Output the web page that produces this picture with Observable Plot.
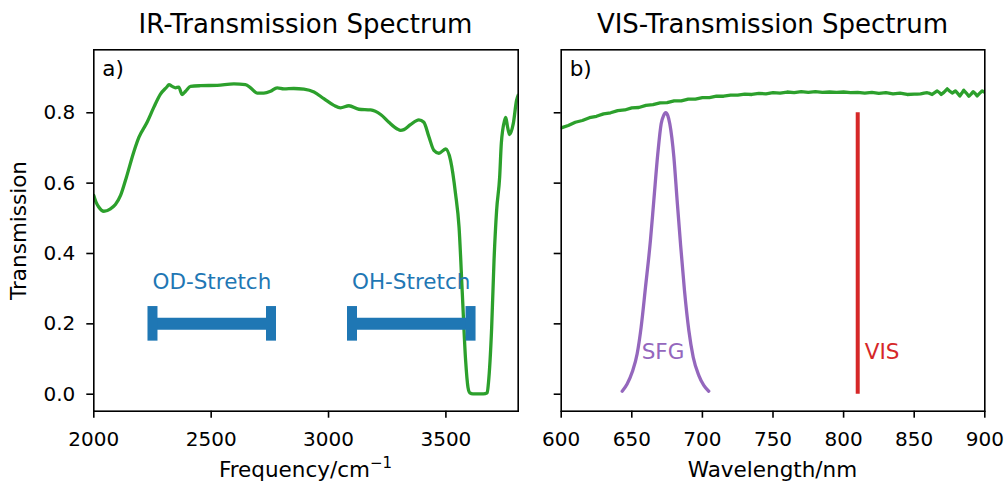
<!DOCTYPE html>
<html><head><meta charset="utf-8">
<script src="https://cdn.jsdelivr.net/npm/d3@7"></script>
<script src="https://cdn.jsdelivr.net/npm/@observablehq/plot@0.6"></script>
<style>
body{margin:0;background:#fff;font-family:"DejaVu Sans",sans-serif;}
#wrap{position:relative;width:1006px;height:483px;overflow:hidden;background:#fff;}
.abs{position:absolute;}
.title{font-size:26px;line-height:1;text-align:center;white-space:nowrap;color:#000;}
.xlabel{font-size:21.5px;line-height:1;text-align:center;white-space:nowrap;color:#000;}
.xlabel sup{font-size:15px;vertical-align:0;position:relative;top:-9px;}
</style></head><body><div id="wrap"></div>
<script>
// ---------- data ----------
const irFreq  = [2000,2010,2021,2043,2071,2092,2114,2139,2170,2192,2227,2256,2284,2312,2320,2334,2348,2362,2376,2391,2412,2455,2526,2597,2646,2668,2696,2724,2753,2781,2810,2852,2895,2938,2980,3023,3051,3087,3129,3179,3222,3257,3293,3307,3321,3349,3385,3406,3428,3449,3470,3499,3520,3541,3556,3570,3584,3594,3602,3615,3660,3676,3681,3695,3705,3716,3729,3736,3750,3755,3762,3771,3787,3801,3808];
const irTrans = [0.565,0.545,0.532,0.520,0.527,0.539,0.565,0.617,0.688,0.730,0.773,0.816,0.853,0.874,0.880,0.875,0.871,0.873,0.852,0.861,0.875,0.877,0.878,0.882,0.880,0.871,0.856,0.856,0.861,0.871,0.868,0.869,0.867,0.859,0.840,0.821,0.814,0.820,0.810,0.808,0.795,0.773,0.754,0.750,0.752,0.766,0.780,0.773,0.731,0.693,0.685,0.697,0.664,0.570,0.475,0.285,0.096,0.020,0.004,0.001,0.001,0.004,0.030,0.190,0.380,0.522,0.617,0.712,0.778,0.787,0.762,0.738,0.769,0.835,0.850];

const visWavelength = [600,605,610,615,620,625,630,635,640,645,650,655,660,665,670,675,680,685,690,695,700,705,710,715,720,725,730,735,740,745,750,755,760,765,770,775,780,785,790,795,800,805,810,815,820,825,830,835,840,845,850,852,854.5,857,859.2,861,862.7,864.5,866.3,868,869.1,871,873.4,875,876.9,878,879.2,880.8,882.3,883.8,885.1,886.9,888.7,890.3,891.8,893.2,894.6,896.3,898.1,900];
const visTrans = [0.757,0.764,0.773,0.778,0.786,0.790,0.797,0.800,0.806,0.808,0.814,0.815,0.821,0.823,0.828,0.829,0.834,0.834,0.839,0.839,0.843,0.843,0.847,0.847,0.850,0.850,0.853,0.852,0.855,0.854,0.857,0.856,0.859,0.857,0.860,0.858,0.860,0.858,0.859,0.858,0.859,0.857,0.858,0.856,0.858,0.855,0.857,0.854,0.856,0.852,0.853,0.853,0.854,0.856,0.857,0.855,0.852,0.857,0.862,0.857,0.852,0.858,0.868,0.862,0.856,0.859,0.862,0.855,0.848,0.856,0.864,0.856,0.847,0.853,0.860,0.855,0.848,0.855,0.862,0.858];

const sfgWavelength = [643.2,646.7,650.3,653.8,656.6,659.7,663.2,665.6,668.4,670.8,672.5,674,675.5,676.9,679.8,682.1,684.5,687.3,690.4,693.5,697.5,701,704.5];
const sfgIntensity  = [0.0085,0.029,0.063,0.115,0.190,0.304,0.437,0.551,0.683,0.769,0.792,0.800,0.792,0.769,0.674,0.551,0.427,0.295,0.181,0.105,0.053,0.025,0.0085];

const visLaser = [810];
const visLaserLow = 0, visLaserHigh = 0.8;

const stretchNames = ["OD-Stretch","OH-Stretch"];
const stretchStart = [2250,3100];
const stretchEnd   = [2755,3605];
const stretchLevel = 0.2;
const stretchLabelLevel = 0.3;

const peakLabels = ["SFG","VIS"];
const peakLabelX = [657,815];
const peakLabelY = 0.1;

const yTicks = [0,0.2,0.4,0.6,0.8];
const irTicks = [2000,2500,3000,3500];
const visTicks = [600,650,700,750,800,850,900];
const yDomain = [-0.0483,0.979];

// ---------- tables ----------
const ir = irFreq.map((f,i)=>({x:f,y:irTrans[i]}));
const vis = visWavelength.map((w,i)=>({x:w,y:visTrans[i]}));
const sfg = sfgWavelength.map((w,i)=>({x:w,y:sfgIntensity[i]}));
const stretches = stretchNames.map((n,i)=>({name:n,x1:stretchStart[i],x2:stretchEnd[i],y:stretchLevel,ly:stretchLabelLevel}));
const caps = stretches.flatMap(s=>[{x:s.x1,y:s.y},{x:s.x2,y:s.y}]);
const vlaser = visLaser.map(w=>({x:w,y1:visLaserLow,y2:visLaserHigh}));
const peaks = peakLabels.map((t,i)=>({t,x:peakLabelX[i],y:peakLabelY}));

const GREEN="#2ca02c", BLUE="#1f77b4", PURPLE="#9467bd", RED="#d62728";
const FONT='"DejaVu Sans", sans-serif';
const TICKFS=20, LABFS=21.5;

const wrap = document.getElementById("wrap");

const common = {
  height: 483,
  marginTop: 49.3, marginBottom: 72.3,
  style: {fontFamily: FONT, fontSize: TICKFS+"px", color:"#000", background:"transparent", overflow:"visible"},
  y: {domain: yDomain}
};

const left = Plot.plot({
  ...common,
  width: 520, marginLeft: 93.3, marginRight: 2.3,
  x: {domain: [2000,3808]},
  marks: [
    Plot.line(ir, {x:"x", y:"y", stroke:GREEN, strokeWidth:3.3, curve:"monotone-x", clip:true}),
    Plot.ruleY(stretches, {x1:"x1", x2:"x2", y:"y", stroke:BLUE, strokeWidth:12}),
    Plot.ruleX(caps, {x:"x", y1:"y", y2:"y", insetTop:-17.3, insetBottom:-17.3, stroke:BLUE, strokeWidth:10}),
    Plot.text(stretches, {x:"x1", y:"ly", text:"name", textAnchor:"start", lineAnchor:"bottom", fill:BLUE, fontSize:LABFS}),
    Plot.text(["a)"], {text:d=>d, frameAnchor:"top-left", dx:8.5, dy:25.7, textAnchor:"start", lineAnchor:"bottom", fontSize:LABFS, fill:"#000"}),
    Plot.text(["Transmission"], {text:d=>d, frameAnchor:"left", dx:-68.3, rotate:-90, textAnchor:"middle", lineAnchor:"bottom", fontSize:LABFS, fill:"#000"}),
    Plot.frame({stroke:"#000", strokeWidth:1.6}),
    Plot.axisX({ticks:irTicks, tickFormat:d=>String(d), tickSize:7, tickPadding:14, strokeWidth:1.6, fontSize:TICKFS, label:null}),
    Plot.axisY({ticks:yTicks, tickFormat:d=>d.toFixed(1), tickSize:7, tickPadding:11.5, strokeWidth:1.6, fontSize:TICKFS, label:null})
  ]
});

const right = Plot.plot({
  ...common,
  width: 486, marginLeft: 40.7, marginRight: 21.7,
  x: {domain: [600,900]},
  marks: [
    Plot.line(vis, {x:"x", y:"y", stroke:GREEN, strokeWidth:3.3, clip:true}),
    Plot.line(sfg, {x:"x", y:"y", stroke:PURPLE, strokeWidth:3.3, curve:"monotone-x"}),
    Plot.ruleX(vlaser, {x:"x", y1:"y1", y2:"y2", stroke:RED, strokeWidth:4}),
    Plot.text(peaks.slice(0,1), {x:"x", y:"y", text:"t", textAnchor:"start", lineAnchor:"bottom", fill:PURPLE, fontSize:LABFS}),
    Plot.text(peaks.slice(1), {x:"x", y:"y", text:"t", textAnchor:"start", lineAnchor:"bottom", fill:RED, fontSize:LABFS}),
    Plot.text(["b)"], {text:d=>d, frameAnchor:"top-left", dx:8.5, dy:25.7, textAnchor:"start", lineAnchor:"bottom", fontSize:LABFS, fill:"#000"}),
    Plot.frame({stroke:"#000", strokeWidth:1.6}),
    Plot.axisX({ticks:visTicks, tickFormat:d=>String(d), tickSize:7, tickPadding:14, strokeWidth:1.6, fontSize:TICKFS, label:null}),
    Plot.axisY({ticks:yTicks, tickFormat:()=>"", tickSize:7, tickPadding:11.5, strokeWidth:1.6, label:null})
  ]
});

left.style.position="absolute"; left.style.left="0px"; left.style.top="0px";
right.style.position="absolute"; right.style.left="520px"; right.style.top="0px";
wrap.appendChild(left); wrap.appendChild(right);

function addDiv(cls, html, x, w, top){
  const d=document.createElement("div");
  d.className="abs "+cls; d.innerHTML=html;
  d.style.left=x+"px"; d.style.width=w+"px"; d.style.top=top+"px";
  wrap.appendChild(d);
}
addDiv("title","IR-Transmission Spectrum",93.3,424.4,11.3);
addDiv("title","VIS-Transmission Spectrum",560.7,423.6,11.3);
addDiv("xlabel","Frequency/cm<sup>−1</sup>",93.3,424.4,459.0);
addDiv("xlabel","Wavelength/nm",560.7,423.6,459.1);
</script>
</body></html>
